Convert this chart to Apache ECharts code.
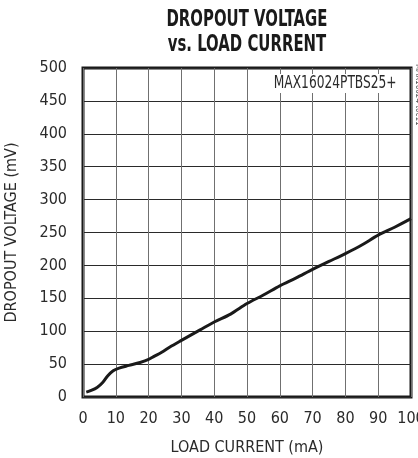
<!DOCTYPE html>
<html>
<head>
<meta charset="utf-8">
<script src="https://cdn.jsdelivr.net/npm/echarts@6/dist/echarts.min.js"></script>
<style>
html,body{margin:0;padding:0;background:#fff;}
#c{width:418px;height:458px;}
</style>
</head>
<body>
<div id="c"></div>
<script>
var titleLines = ['DROPOUT VOLTAGE', 'vs. LOAD CURRENT'];
var xAxisName = 'LOAD CURRENT (mA)';
var yAxisName = 'DROPOUT VOLTAGE (mV)';
var annotation = 'MAX16024PTBS25+';
var tocLabel = 'MAX16024 toc11';
var loadCurrent = [1, 2.5, 4.3, 6, 7.5, 9.2, 11, 14, 17.4, 20, 21.4, 24, 26.5, 30, 35.7, 40, 45, 50, 55, 60, 65, 70, 75, 80, 85, 90, 95, 100];
var dropout = [7.5, 10, 14.5, 22, 32, 40, 44, 48, 52.5, 57, 61, 68, 76, 86, 102, 114, 126, 142, 155, 169, 181, 194, 206, 218, 231, 246, 258, 271];

var font = "'DejaVu Sans Condensed', 'Liberation Sans Narrow', Arial, sans-serif";
var chart = echarts.init(document.getElementById('c'), null, {renderer: 'canvas'});
var data = loadCurrent.map(function (x, i) { return [x, dropout[i]]; });
chart.setOption({
  backgroundColor: '#fff',
  animation: false,
  grid: {left: 83, right: 7, top: 68, bottom: 61, outerBoundsMode: 'none', containLabel: false,
         show: true, borderColor: '#1a1a1a', borderWidth: 3, backgroundColor: 'transparent'},
  xAxis: {
    type: 'value', min: 0, max: 100, interval: 10,
    name: xAxisName, nameLocation: 'middle', nameGap: 43,
    nameTextStyle: {fontFamily: font, fontSize: 16, color: '#2a2a2a'},
    axisLine: {show: false}, axisTick: {show: false},
    axisLabel: {fontFamily: font, fontSize: 16, color: '#2a2a2a', margin: 14, showMaxLabel: true},
    splitLine: {show: true, lineStyle: {color: '#707070', width: 1}}
  },
  yAxis: {
    type: 'value', min: 0, max: 500, interval: 50,
    name: yAxisName, nameLocation: 'middle', nameGap: 63, nameRotate: 90,
    nameTextStyle: {fontFamily: font, fontSize: 16, color: '#2a2a2a'},
    axisLine: {show: false}, axisTick: {show: false},
    axisLabel: {fontFamily: font, fontSize: 16, color: '#2a2a2a', margin: 16},
    splitLine: {show: true, lineStyle: {color: '#2a2a2a', width: 1}}
  },
  graphic: [
    {type: 'text', x: 247, y: 8, scaleX: 0.72, z: 100,
     style: {text: titleLines.join('\n'), fontFamily: font, fontWeight: 'bold', fontSize: 23, lineHeight: 25,
             fill: '#1a1a1a', align: 'center', verticalAlign: 'top'}},
    {type: 'text', x: 399, y: 74, scaleX: 0.8, z: 100,
     style: {text: annotation, fontFamily: font, fontSize: 17, fill: '#2a2a2a', align: 'right', verticalAlign: 'top',
             backgroundColor: '#fff', padding: [1, 3, 1, 3]}},
    {type: 'text', x: 422, y: 64, rotation: -Math.PI / 2, z: 100,
     style: {text: tocLabel, fontFamily: font, fontSize: 8, fill: '#555', align: 'left', verticalAlign: 'top'}}
  ],
  series: [{
    type: 'line', data: data, smooth: 0.3, showSymbol: false,
    lineStyle: {color: '#1a1a1a', width: 3}, z: 10
  }]
});
</script>
</body>
</html>
